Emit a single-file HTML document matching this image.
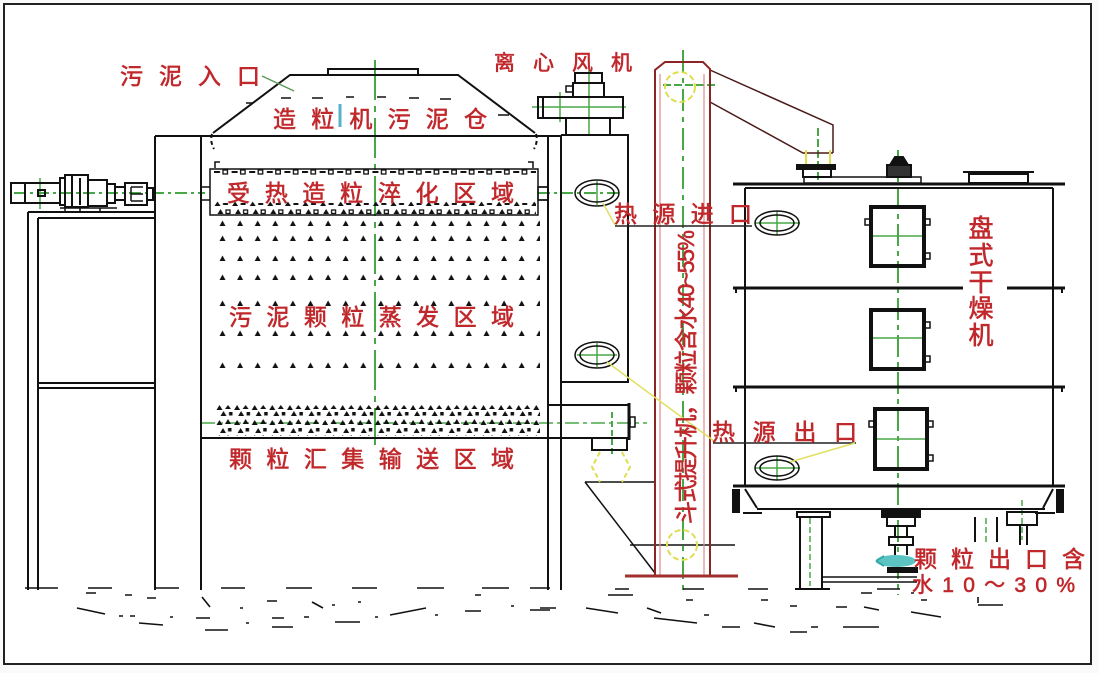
<!DOCTYPE html>
<html><head><meta charset="utf-8">
<style>
html,body{margin:0;padding:0;background:#fff;}
svg{display:block;}
text{font-family:"Liberation Sans","Noto Sans CJK SC",sans-serif;fill:#c0282c;stroke:#c0282c;stroke-width:0.6;}
</style></head><body>
<svg width="1099" height="673" viewBox="0 0 1099 673" xmlns="http://www.w3.org/2000/svg">
<defs>
<pattern id="pa" patternUnits="userSpaceOnUse" x="218" y="0" width="17.6" height="8">
  <path d="M1.5 7 L4.5 1.5 L7.5 7 Z" fill="#111"/>
</pattern>
<pattern id="pb" patternUnits="userSpaceOnUse" x="214" y="0" width="17.6" height="6">
  <rect x="0" y="2" width="6" height="2" fill="#111"/>
  <rect x="9" y="1" width="4.5" height="4" fill="none" stroke="#111" stroke-width="1.3"/>
</pattern>
<pattern id="pc" patternUnits="userSpaceOnUse" x="214" y="0" width="17.6" height="14">
  <path d="M0.5 5 L3.5 0.5 L6.5 5 Z" fill="#111"/>
  <rect x="9" y="2" width="5" height="2" fill="#111"/>
  <path d="M3.5 13 L6.5 8 L9.5 13 Z" fill="#111"/>
  <rect x="12" y="9" width="4" height="3.5" fill="none" stroke="#111" stroke-width="1.3"/>
</pattern>
<pattern id="pd" patternUnits="userSpaceOnUse" x="216" y="0" width="17.6" height="30">
  <path d="M0.5 6 L3.5 1 L6.5 6 Z" fill="#111"/>
  <path d="M9 5 L12 1 L15 5 Z" fill="#111"/>
  <path d="M4.5 12 L7.5 7 L10.5 12 Z" fill="#111"/>
  <rect x="13" y="8" width="3.5" height="3.5" fill="#111"/>
  <path d="M0.5 21 L3.5 16 L6.5 21 Z" fill="#111"/>
  <path d="M9 20 L12 15 L15 20 Z" fill="#111"/>
  <path d="M4 29 L7 24 L10 29 Z" fill="#111"/>
  <rect x="12" y="24" width="3.5" height="3.5" fill="#111"/>
</pattern>
</defs>

<rect x="0" y="0" width="1099" height="673" fill="#fafafa"/>
<rect x="4" y="4" width="1087" height="660" fill="#fff" stroke="#222" stroke-width="2"/>

<!-- green centre lines (below drawings) -->
<g stroke="#48a848" stroke-width="2" fill="none">
  <path d="M375 60 V445" stroke-dasharray="40 6 6 6"/>
  <path d="M14 193 H205" stroke-dasharray="12 4 3 4"/>
  <path d="M538 193 H622" stroke-dasharray="12 4 3 4"/>
  <path d="M201 423 H647" stroke-dasharray="14 4 4 4" stroke-width="1.5"/>
  <path d="M683 50 V592" stroke-dasharray="22 6 5 6"/>
  <path d="M663 85 H718" stroke-dasharray="8 3"/>
  <path d="M898 150 V595" stroke-dasharray="22 5 5 5"/>
  <path d="M589 68 V135 M532 107 H626 M560 92 V122" stroke-width="1.5"/>
  <path d="M818 128 V184" stroke-dasharray="8 3"/>
  <path d="M40 178 V209" stroke-width="1.5"/>
  <path d="M869 236 H926 M869 338 H926 M873 439 H927" stroke-width="1.5"/>
  <path d="M755 223 H800 M777 211 V235 M755 468 H800 M777 456 V480" stroke-width="1.5"/>
  <path d="M577 355 H617 M597 343 V367 M597 181 V205" stroke-width="1.5"/>
  <path d="M612 412 V455" stroke-dasharray="6 3"/>
  <path d="M810 518 V586 M986 518 V545 M1022 500 V540" stroke-dasharray="6 3" stroke-width="1.5"/>
  <path d="M630 545 H735" stroke="#111" stroke-width="1.5"/>
</g>

<g stroke="#111" stroke-width="2" fill="none">
  <!-- left frame -->
  <path d="M28 212 V590 M38 218 V590 M28 212 H155 M38 218 H155 M38 383 H155 M38 388 H155"/>
  <!-- tower -->
  <path d="M155 136 V590 M201 136 V590 M155 136 H561 M548 136 V590 M561 135 V590 M561 135 H628 V382 H561"/>
  <path d="M201 438 H548"/>
  <!-- outlet box -->
  <path d="M548 405 H630 M548 438 H630"/>
  <path d="M629 403 V440" stroke-width="3"/>
  <rect x="630" y="417" width="5" height="10" stroke-width="1.5"/>
  <rect x="592" y="438" width="35" height="12"/>
  <!-- chute hopper -->
  <path d="M585 482 H655 M585 482 L655 573" stroke-width="1.5"/>
  <!-- hopper roof -->
  <path d="M213 133 L290 75 H458 L535 133"/>
  <rect x="328" y="69" width="90" height="6"/>
  <path d="M212 134 C210 140 212 145 214 149 M536 134 C538 140 536 145 534 149" stroke-dasharray="4 3"/>
  <path d="M281 98 H291 M312 98 H323 M346 97 H354 M377 97 H386 M409 98 H419 M440 99 H451 M498 115 H509 M246 103 H253" stroke-width="1.5"/>
  <path d="M215 168 V162 H220 M533 168 V162 H528" stroke-width="1.5"/>
  <!-- heat zone box -->
  <rect x="210" y="169" width="328" height="46" stroke-width="1.5"/>
  <path d="M210 187 H202 M210 200 H202 M538 187 H548 M538 200 H548" stroke-width="1.5"/>
  <rect x="538" y="187" width="10" height="13" stroke-width="1.5"/>
  <!-- motor -->
  <rect x="11" y="183" width="49" height="20"/>
  <path d="M25 183 V203"/>
  <rect x="38" y="190" width="7" height="6"/>
  <rect x="60" y="178" width="5" height="27"/>
  <rect x="65" y="175" width="23" height="32"/>
  <path d="M72 175 V207 M80 178 V205"/>
  <rect x="88" y="180" width="19" height="26"/>
  <rect x="107" y="184" width="8" height="19"/>
  <rect x="115" y="187" width="10" height="13"/>
  <rect x="125" y="183" width="22" height="22"/>
  <path d="M131 187 H143 M131 194 H143 M131 201 H143 M131 187 V201" stroke-width="1.5"/>
  <rect x="147" y="188" width="6" height="12"/>
  <path d="M60 208 H117 M65 208 V211 M80 208 V211 M100 208 V211" stroke-width="1.5"/>
  <!-- fan -->
  <rect x="575" y="73" width="27" height="10"/>
  <rect x="573" y="83" width="31" height="14"/>
  <rect x="566" y="86" width="7" height="6" stroke-width="1.5"/>
  <rect x="538" y="97" width="85" height="21"/>
  <path d="M543 97 V118"/>
  <rect x="566" y="118" width="44" height="17"/>
  <!-- ellipses -->
  <g stroke-width="1.5">
    <ellipse cx="597" cy="193" rx="22" ry="13"/><ellipse cx="597" cy="193" rx="17" ry="9"/>
    <ellipse cx="597" cy="355" rx="22" ry="13"/><ellipse cx="597" cy="355" rx="17" ry="9"/>
    <ellipse cx="777" cy="223" rx="22" ry="12"/><ellipse cx="777" cy="223" rx="17" ry="8"/>
    <ellipse cx="777" cy="468" rx="22" ry="12"/><ellipse cx="777" cy="468" rx="17" ry="8"/>
  </g>
  <!-- chute to dryer -->
  <path d="M710 70 L833 125 V153 M710 102 L803 153 H833" stroke="#4a1a1a" stroke-width="1.5"/>
  <rect x="797" y="165" width="38" height="4" fill="#111"/>
  <rect x="803" y="169" width="28" height="8"/>
  <rect x="804" y="177" width="117" height="6" stroke-width="1.5"/>
  <!-- dryer top -->
  <path d="M733 184 H1065" stroke-width="3"/>
  <path d="M745 188 H1053"/>
  <path d="M890 165 L895 157 H903 L908 165 Z" fill="#111"/>
  <rect x="887" y="165" width="24" height="12" fill="#333"/>
  <rect x="969" y="174" width="59" height="9"/>
  <path d="M963 172 H1034"/>
  <!-- dryer body -->
  <path d="M745 188 V486 M1053 188 V486"/>
  <path d="M733 288 H963 M1007 288 H1065" stroke-width="3"/>
  <path d="M733 387 H1065" stroke-width="3"/>
  <path d="M733 486 H1065" stroke-width="3"/>
  <path d="M736 288 V293 M1062 288 V293 M736 387 V392 M1062 387 V392" stroke-width="2"/>
  <!-- windows -->
  <rect x="871" y="207" width="53" height="59" stroke-width="4"/>
  <rect x="871" y="310" width="53" height="59" stroke-width="4"/>
  <rect x="875" y="409" width="52" height="60" stroke-width="4"/>
  <path d="M926 219 H930 V225 H926 M926 253 H930 V259 H926 M926 322 H930 V328 H926 M926 356 H930 V362 H926 M929 421 H933 V427 H929 M929 455 H933 V461 H929 M869 219 H865 V225 H869 M873 421 H869 V427 H873" stroke-width="1.5"/>
  <!-- dryer bottom -->
  <path d="M745 489 L757 508 M1053 489 L1043 508 M757 509 H1045"/>
  <rect x="733" y="490" width="6" height="22" fill="#111"/>
  <rect x="1057" y="490" width="6" height="22" fill="#111"/>
  <path d="M743 513 H762 M1035 513 H1055"/>
  <rect x="797" y="512" width="33" height="5"/>
  <path d="M800 517 V588 M822 517 V588 M795 589 H830"/>
  <path d="M822 577 H917 M822 582 H917" stroke-width="1.5"/>
  <rect x="882" y="511" width="38" height="6" fill="#111"/>
  <rect x="887" y="517" width="28" height="9"/>
  <path d="M895 526 V537 M907 526 V537"/>
  <rect x="889" y="537" width="24" height="8"/>
  <path d="M895 545 V555 M907 545 V555"/>
  <rect x="888" y="568" width="29" height="4" fill="#111"/>
  <path d="M975 517 V542 M997 517 V542"/>
  <rect x="1007" y="512" width="30" height="13"/>
  <path d="M1020 525 V545 M1027 525 V545"/>
</g>
<ellipse cx="896" cy="561" rx="20" ry="6" fill="#5cc3c3"/>
<path d="M876 561 L884 556 M876 561 L884 566" stroke="#3aa" stroke-width="2"/>

<!-- elevator -->
<path d="M660 575 V74 M704 575 V74" stroke="#e08a8a" stroke-width="1.2" fill="none"/>
<path d="M655 575 V70 L665 62 H703 L710 69 V575" stroke="#8b2525" stroke-width="2" fill="none"/>
<path d="M625 576 H738" stroke="#a03030" stroke-width="3"/>
<circle cx="680" cy="87" r="15" fill="none" stroke="#dede50" stroke-width="2" stroke-dasharray="6 3"/>
<circle cx="682" cy="545" r="15" fill="none" stroke="#dede50" stroke-width="2" stroke-dasharray="6 3"/>
<path d="M600 452 L592 467 L600 482 M622 452 L630 467 L622 482" stroke="#dede50" stroke-width="2" fill="none" stroke-dasharray="5 3"/>
<path d="M806 150 V164 M830 150 V164" stroke="#dede50" stroke-width="2"/>

<!-- dot rows -->
<g transform="translate(0,169)"><rect x="214" y="0" width="322" height="6" fill="url(#pb)"/></g>
<g transform="translate(0,201)"><rect x="214" y="0" width="322" height="14" fill="url(#pc)"/></g>
<g transform="translate(0,219)"><rect x="218" y="0" width="322" height="8" fill="url(#pa)"/></g>
<g transform="translate(0,234)"><rect x="218" y="0" width="322" height="8" fill="url(#pa)"/></g>
<g transform="translate(0,254)"><rect x="218" y="0" width="322" height="8" fill="url(#pa)"/></g>
<g transform="translate(0,273)"><rect x="218" y="0" width="322" height="8" fill="url(#pa)"/></g>
<g transform="translate(0,299)"><rect x="218" y="0" width="322" height="8" fill="url(#pa)"/></g>
<g transform="translate(0,329)"><rect x="218" y="0" width="322" height="8" fill="url(#pa)"/></g>
<g transform="translate(0,361)"><rect x="218" y="0" width="322" height="8" fill="url(#pa)"/></g>
<g transform="translate(0,404)"><rect x="216" y="0" width="324" height="32" fill="url(#pd)"/></g>

<!-- leaders -->
<path d="M262 76 L294 91" stroke="#5a9a5a" stroke-width="1.5"/>
<path d="M340 104 V127" stroke="#5ab0c8" stroke-width="3"/>
<path d="M603 203 L615 225" stroke="#e0e060" stroke-width="1.5"/>
<path d="M615 226 H752" stroke="#222" stroke-width="1.5"/>
<path d="M607 362 L714 441" stroke="#e0e060" stroke-width="1.5"/>
<path d="M713 443 H856" stroke="#222" stroke-width="1.5"/>
<path d="M790 462 L855 443" stroke="#e0e060" stroke-width="1.5"/>

<!-- ground -->
<g stroke="#111" stroke-width="1.6" fill="none">
  <path d="M25 588 H58 M88 588 H112 M156 588 H179 M221 588 H245 M286 588 H312 M352 588 H377 M417 588 H444 M482 588 H509 M530 588 H550 M615 589 H629 M683 589 H704 M748 589 H768 M877 589 H900"/>
  <path d="M77 608 L105 614 M119 616 H123 M130 616 H135 M139 623 L163 625 M170 617 H173 M147 598 H156 M125 595 H132 M86 593 H96 M202 597 L210 607 M196 618 H210 M205 630 H228 M240 608 H243 M246 623 H249 M267 601 H277 M272 627 H293 M272 618 H284 M304 617 H309 M312 602 L323 608 M332 605 H335 M358 602 H361 M335 622 H360 M375 617 H378 M390 615 L426 608 M435 615 H438 M465 611 H481 M475 595 H481 M511 606 H514 M530 610 H550"/>
  <path d="M540 608 H556 M586 608 L618 613 M647 608 L661 613 M654 618 L697 623 M704 615 H709 M722 627 H740 M754 623 L775 627 M790 632 H807 M811 627 H818 M843 627 L879 627 M836 607 H847 M864 607 L879 610 M911 612 L941 617 M921 600 H927 M978 605 H1003 M978 597 V603 M608 595 H633 M686 600 H693 M761 600 H768 M790 606 H797 M861 593 H872 M911 593 H914"/>
</g>

<!-- labels -->
<text x="120" y="84" font-size="23" textLength="140" lengthAdjust="spacing">污泥入口</text>
<text x="273" y="127" font-size="23" textLength="214" lengthAdjust="spacing">造粒机污泥仓</text>
<text x="494" y="70" font-size="21" textLength="138" lengthAdjust="spacing">离心风机</text>
<text x="227" y="201" font-size="23" textLength="287" lengthAdjust="spacing">受热造粒淬化区域</text>
<text x="614" y="222" font-size="23" textLength="138" lengthAdjust="spacing">热源进口</text>
<text x="229" y="325" font-size="23" textLength="285" lengthAdjust="spacing">污泥颗粒蒸发区域</text>
<text x="712" y="440" font-size="23" textLength="145" lengthAdjust="spacing">热源出口</text>
<text x="229" y="467" font-size="23" textLength="285" lengthAdjust="spacing">颗粒汇集输送区域</text>
<text x="914" y="567" font-size="23" textLength="171" lengthAdjust="spacing">颗粒出口含</text>
<text x="912" y="592" font-size="21" textLength="163" lengthAdjust="spacing">水10～30%</text>
<text transform="translate(694,524) rotate(-90)" font-size="23" textLength="294" lengthAdjust="spacing">斗式提升机，颗粒含水40~55%</text>
<g font-size="25" text-anchor="middle">
  <text x="981" y="237">盘</text>
  <text x="981" y="264">式</text>
  <text x="981" y="291">干</text>
  <text x="981" y="317">燥</text>
  <text x="981" y="344">机</text>
</g>
</svg>
</body></html>
